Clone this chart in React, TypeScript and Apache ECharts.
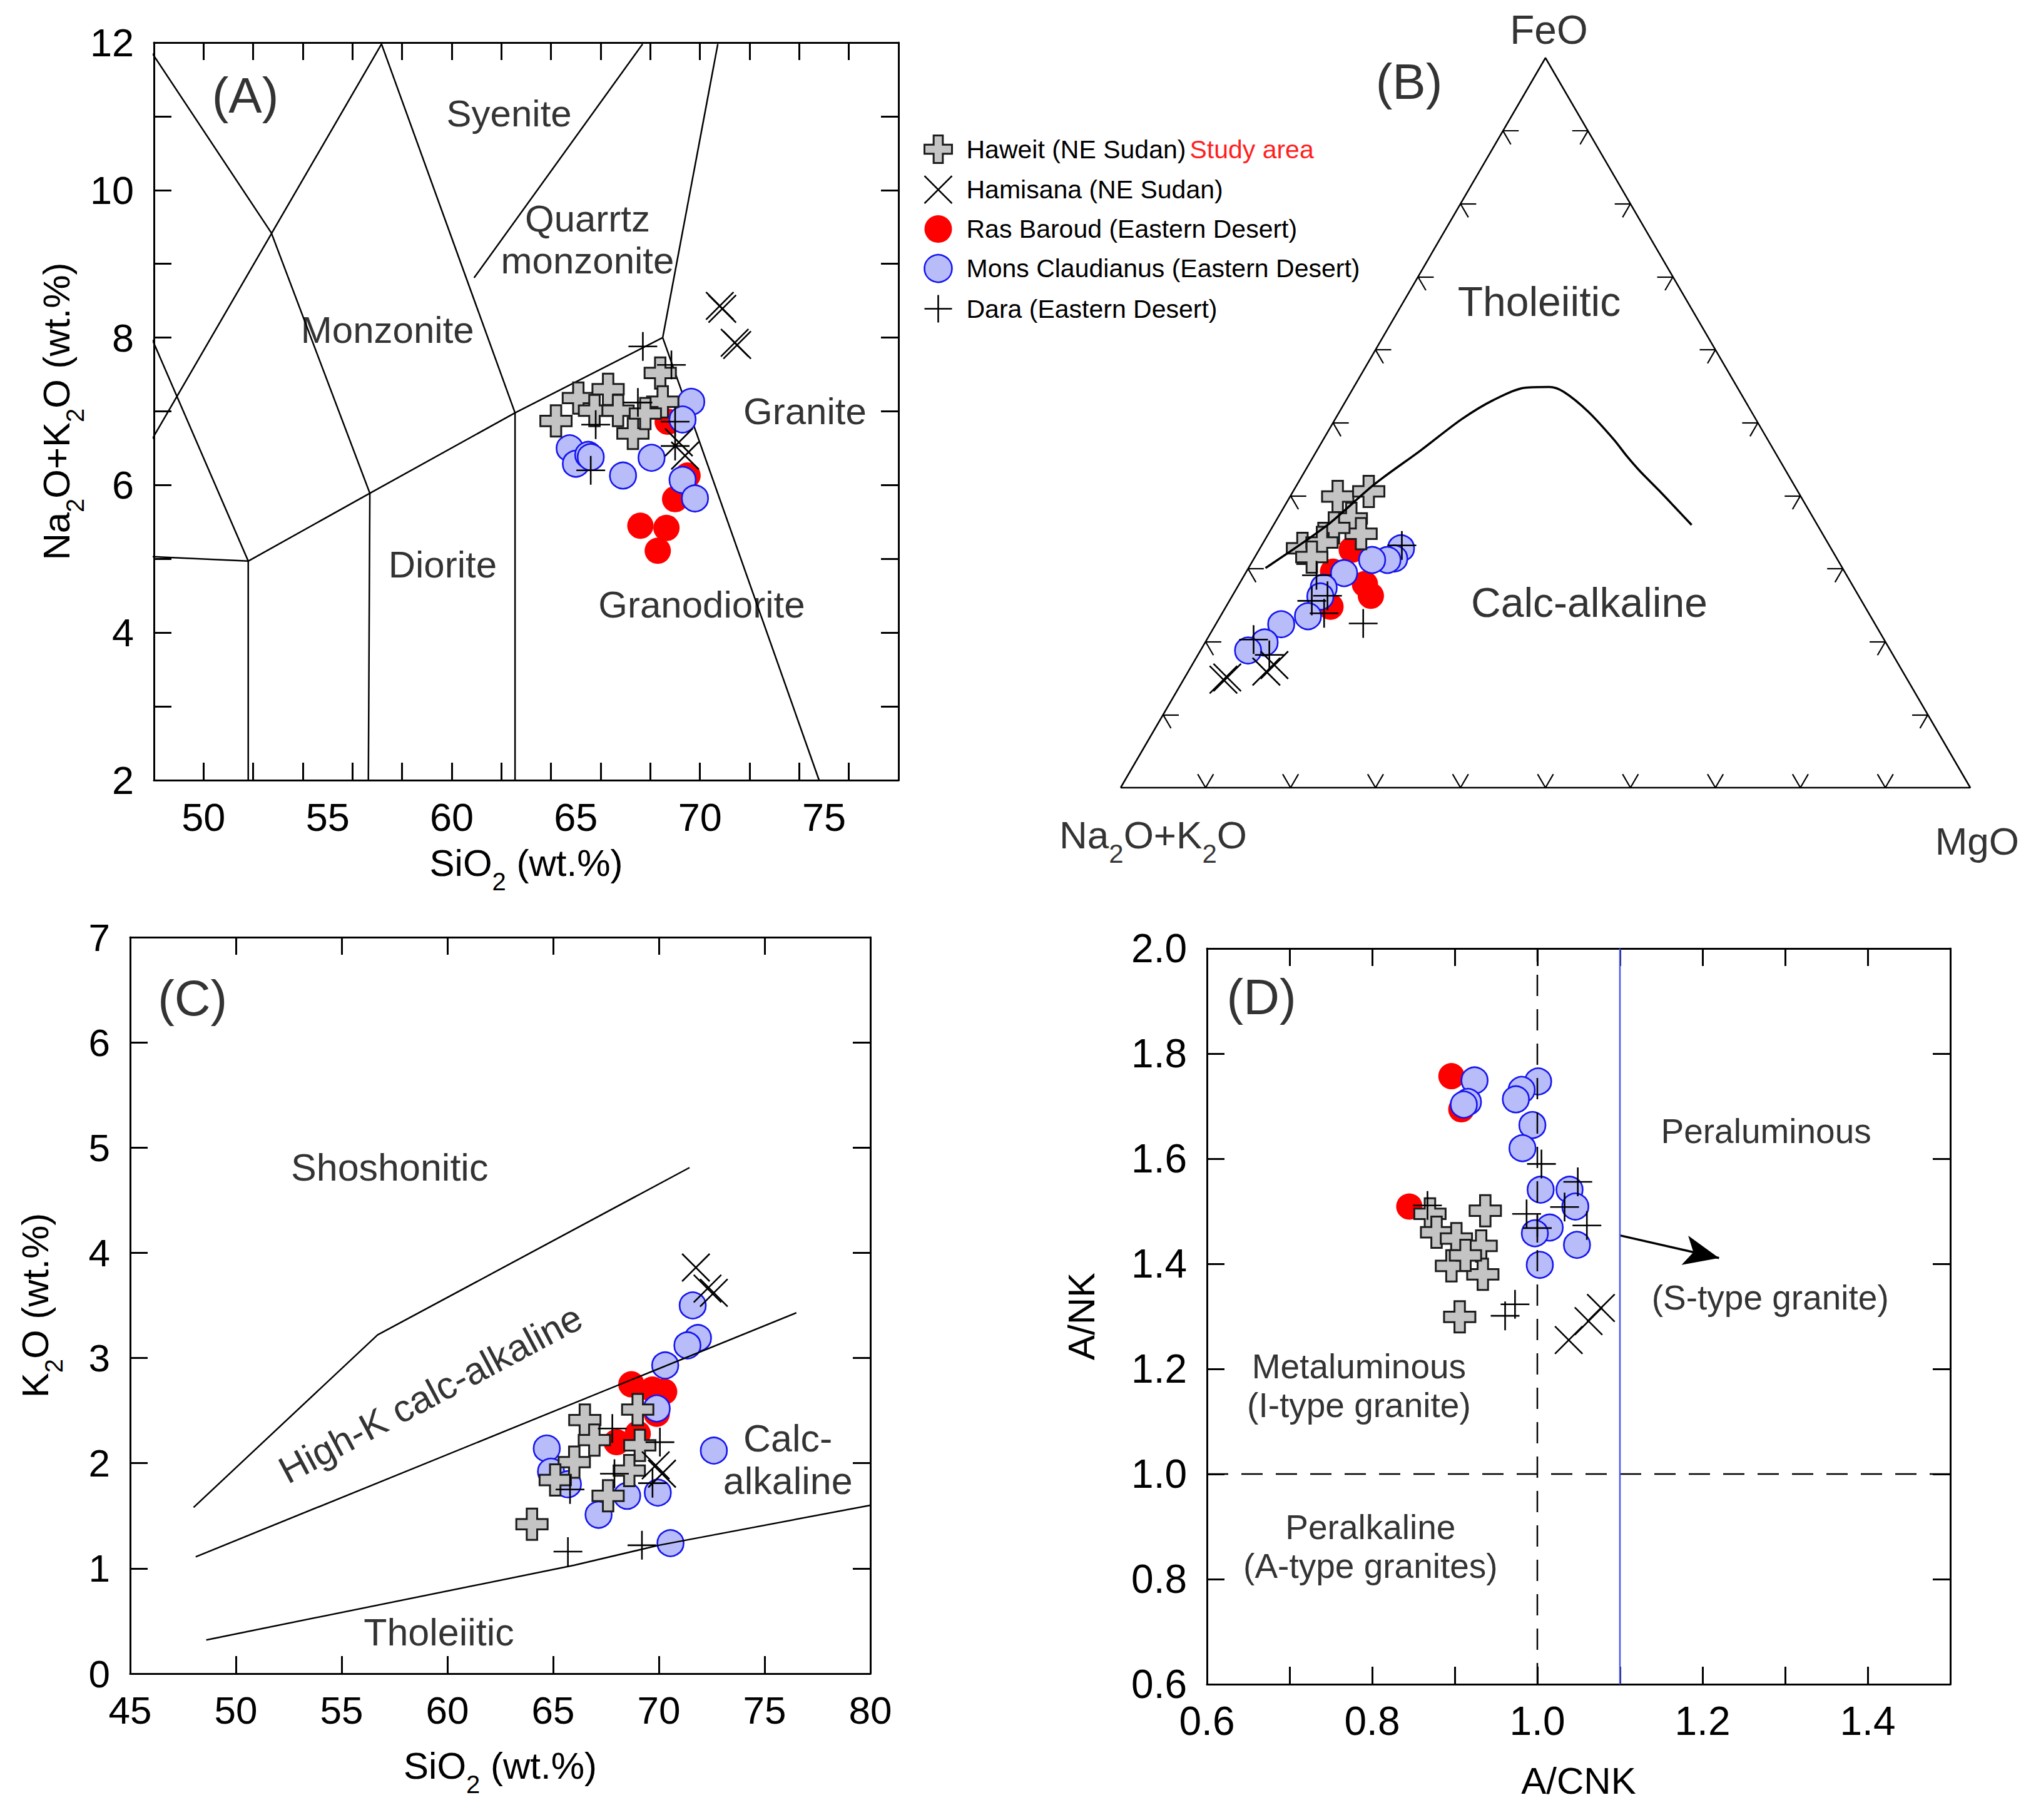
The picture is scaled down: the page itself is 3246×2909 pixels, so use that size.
import React, { useEffect, useRef } from "react";
import * as echarts from "echarts";

const FONT = '"Liberation Sans", Arial, Helvetica, sans-serif';
const S3 = Math.sqrt(3) / 2;

const NAMES = [
  "Haweit (NE Sudan)",
  "Hamisana (NE Sudan)",
  "Ras Baroud (Eastern Desert)",
  "Mons Claudianus (Eastern Desert)",
  "Dara (Eastern Desert)",
];

// ---------- Panel A: TAS (SiO2 vs Na2O+K2O) ----------
const aXLabels = [50, 55, 60, 65, 70, 75];
const aXTicks = [50, 52, 54, 56, 58, 60, 62, 64, 66, 68, 70, 72, 74, 76];
const aYLabels = [2, 4, 6, 8, 10, 12];
const aYTicks = [3, 4, 5, 6, 7, 8, 9, 10, 11];

const aBoundaries = [
  [[47.94, 11.85], [52.73, 9.42], [56.7, 5.89], [56.64, 2]],
  [[47.94, 6.63], [57.17, 11.98]],
  [[57.17, 11.98], [62.55, 6.98], [62.55, 2]],
  [[47.94, 7.97], [51.8, 4.97], [51.8, 2]],
  [[47.94, 5.03], [51.8, 4.97]],
  [[51.8, 4.97], [56.7, 5.89], [62.55, 6.98], [68.5, 8.0]],
  [[68.5, 8.0], [70.72, 11.98]],
  [[68.5, 8.0], [74.8, 2]],
  [[60.9, 8.81], [67.69, 11.98]],
];

const haweitA = [[64.2, 6.87], [65.1, 7.18], [66.3, 7.3], [65.75, 7.01], [66.7, 7.01], [67.3, 6.7], [68.4, 7.52], [68.5, 7.13], [67.8, 6.97]];
const hamisanaA = [[70.8, 8.43], [70.9, 8.39], [71.4, 7.93], [71.5, 7.9], [69.4, 6.4], [69.15, 6.58]];
const rasBaroudA = [[69.5, 6.13], [69.0, 5.81], [67.6, 5.45], [68.65, 5.42], [68.3, 5.11], [68.7, 6.86]];
const monsA = [[69.65, 7.13], [69.3, 6.89], [64.75, 6.5], [65.0, 6.29], [65.5, 6.41], [65.6, 6.38], [66.9, 6.13], [68.05, 6.37], [69.3, 6.07], [69.8, 5.82]];
const daraA = [[67.7, 7.88], [65.6, 6.2], [65.8, 6.82], [67.5, 7.12], [68.85, 7.63], [69.0, 6.86], [69.0, 6.53]];

const aRegions = [
  { name: "(A)", value: [51.68, 11.28], size: 80 },
  { name: "Syenite", value: [62.31, 11.04], size: 60 },
  { name: "Quarrtz\nmonzonite", value: [65.47, 9.33], size: 60 },
  { name: "Monzonite", value: [57.41, 8.1], size: 60 },
  { name: "Granite", value: [74.23, 7.0], size: 60 },
  { name: "Diorite", value: [59.63, 4.92], size: 60 },
  { name: "Granodiorite", value: [70.07, 4.38], size: 60 },
];

// ---------- Panel B: AFM ternary [Na2O+K2O, FeO, MgO] ----------
const bTicks = [10, 20, 30, 40, 50, 60, 70, 80, 90];
const bCurve = [
  [67.9, 30.1, 2.0], [57.8, 35.9, 6.3], [49.3, 41.6, 9.1], [41.6, 46.2, 12.2], [34.6, 50.5, 14.9],
  [29.6, 53.1, 17.3], [25.0, 54.8, 20.2], [22.1, 54.9, 23.0], [20.7, 54.2, 25.1], [19.2, 51.5, 29.3],
  [18.1, 47.7, 34.2], [17.7, 45.4, 36.9], [17.2, 43.4, 39.4], [16.3, 40.8, 42.9], [15.6, 38.6, 45.8], [14.8, 36.0, 49.2],
];
const haweitB = [[54.5, 39.9, 5.6], [50.5, 40.6, 8.9], [54.4, 36.9, 8.7], [54.3, 34.8, 10.9], [57.1, 35.6, 7.3], [62.2, 32.8, 5.0], [59.5, 33.6, 6.9], [61.7, 31.6, 6.7]];
const hamisanaB = [[80.5, 14.8, 4.7], [79.9, 15.1, 5.0], [74.9, 15.9, 9.2], [73.5, 16.8, 9.7]];
const rasBaroudB = [[56.5, 32.6, 10.9], [60.2, 29.6, 10.2], [57.3, 27.9, 14.8], [57.4, 26.3, 16.3], [62.9, 24.8, 12.3]];
const monsB = [[50.6, 32.8, 16.6], [52.1, 31.4, 16.5], [53.0, 31.2, 15.8], [54.8, 31.2, 14.0], [59.0, 29.4, 11.6], [62.4, 27.4, 10.2], [63.4, 26.2, 10.4], [66.2, 23.5, 10.3], [69.9, 22.4, 7.7], [73.1, 19.9, 7.0], [75.6, 18.8, 5.6]];
const daraB = [[50.3, 33.2, 16.5], [62.4, 29.1, 8.5], [62.5, 26.3, 11.2], [64.7, 25.6, 9.7], [64.1, 23.9, 12.0], [60.2, 22.5, 17.3], [74.2, 20.3, 5.5], [73.4, 18.2, 8.4]];

// ---------- Panel C: SiO2 vs K2O ----------
const cXLabels = [45, 50, 55, 60, 65, 70, 75, 80];
const cXTicks = [50, 55, 60, 65, 70, 75];
const cYLabels = [0, 1, 2, 3, 4, 5, 6, 7];
const cYTicks = [1, 2, 3, 4, 5, 6];
const cBoundaries = [
  [[48.0, 1.58], [56.7, 3.22], [71.45, 4.81]],
  [[48.1, 1.11], [76.5, 3.43]],
  [[48.6, 0.32], [66.0, 1.03], [70.0, 1.22], [80.0, 1.6]],
];
const haweitC = [[66.5, 2.41], [66.95, 2.22], [69.0, 2.51], [69.1, 2.17], [68.6, 1.93], [66.0, 2.01], [65.1, 1.84], [67.6, 1.69], [64.0, 1.42]];
const hamisanaC = [[71.75, 3.86], [72.3, 3.66], [72.6, 3.62], [69.85, 1.98], [70.15, 1.9]];
const rasBaroudC = [[68.7, 2.75], [69.7, 2.7], [70.25, 2.68], [69.9, 2.47], [69.0, 2.28], [68.0, 2.2]];
const monsC = [[71.6, 3.5], [71.85, 3.19], [71.35, 3.12], [70.3, 2.93], [69.9, 2.52], [64.7, 2.14], [64.9, 1.92], [65.7, 1.8], [67.15, 1.51], [68.5, 1.69], [69.95, 1.72], [72.6, 2.12], [70.55, 1.24]];
const daraC = [[65.7, 1.16], [69.2, 1.22], [67.8, 2.33], [70.05, 2.2], [69.7, 1.81], [65.8, 1.75], [67.9, 1.9]];
const cRegions = [
  { name: "(C)", value: [47.95, 6.42], size: 80 },
  { name: "Shoshonitic", value: [57.27, 4.81], size: 61 },
  { name: "High-K calc-alkaline", value: [59.2, 2.66], size: 61, rotate: 28 },
  { name: "Calc-\nalkaline", value: [76.1, 2.035], size: 61 },
  { name: "Tholeiitic", value: [59.6, 0.39], size: 61 },
];

// ---------- Panel D: A/CNK vs A/NK ----------
const dXLabels = [0.6, 0.8, 1.0, 1.2, 1.4];
const dXTicks = [0.7, 0.8, 0.9, 1.0, 1.1, 1.2, 1.3, 1.4];
const dYLabels = [0.6, 0.8, 1.0, 1.2, 1.4, 1.6, 1.8, 2.0];
const dYTicks = [0.8, 1.0, 1.2, 1.4, 1.6, 1.8];
const haweitD = [[0.87, 1.495], [0.878, 1.46], [0.902, 1.448], [0.937, 1.501], [0.932, 1.434], [0.896, 1.396], [0.934, 1.38], [0.906, 1.299], [0.913, 1.416]];
const hamisanaD = [[1.038, 1.255], [1.062, 1.291], [1.077, 1.316]];
const rasBaroudD = [[0.896, 1.757], [0.908, 1.694], [0.845, 1.509]];
const monsD = [[0.924, 1.749], [0.916, 1.708], [0.911, 1.703], [1.001, 1.747], [0.981, 1.731], [0.974, 1.713], [0.994, 1.664], [0.982, 1.62], [1.004, 1.541], [1.039, 1.541], [1.046, 1.509], [1.015, 1.469], [0.997, 1.458], [1.048, 1.436], [1.003, 1.398]];
const daraD = [[0.867, 1.511], [1.005, 1.59], [1.049, 1.556], [1.033, 1.508], [0.987, 1.495], [1.0, 1.468], [1.06, 1.473], [0.973, 1.323], [0.961, 1.301]];
const dArrow = [[1.1, 1.454], [1.22, 1.411]];
const dRegions = [
  { name: "(D)", value: [0.666, 1.908], size: 80 },
  { name: "Peraluminous", value: [1.277, 1.652], size: 55 },
  { name: "(S-type granite)", value: [1.282, 1.336], size: 55 },
  { name: "Metaluminous\n(I-type granite)", value: [0.784, 1.168], size: 55 },
  { name: "Peralkaline\n(A-type granites)", value: [0.798, 0.862], size: 55 },
];

// ---------- styles ----------
const SYM_CROSS = "path://M1,0L2,0L2,1L3,1L3,2L2,2L2,3L1,3L1,2L0,2L0,1L1,1Z";
const SYM_PLUS = "path://M1,0L1,2M0,1L2,1";
const SYM_X = "path://M0,0L2,2M0,2L2,0";
const GROUP_STYLE: any = {
  haweit: { symbol: SYM_CROSS, symbolSize: 50, itemStyle: { color: "#c4c4c4", borderColor: "#1c1c1c", borderWidth: 3 } },
  hamisana: { symbol: SYM_X, symbolSize: 44, itemStyle: { color: "rgba(0,0,0,0)", borderColor: "#000", borderWidth: 2.6 } },
  ras: { symbol: "circle", symbolSize: 42, itemStyle: { color: "#ff0000" } },
  mons: { symbol: "circle", symbolSize: 42, itemStyle: { color: "#b8bcf8", borderColor: "#1414f0", borderWidth: 2.6 } },
  dara: { symbol: SYM_PLUS, symbolSize: 46, itemStyle: { color: "rgba(0,0,0,0)", borderColor: "#000", borderWidth: 2.6 } },
};

const tern = (p: number[]) => {
  const s = p[0] + p[1] + p[2];
  return [(p[2] + p[1] / 2) / s, (p[1] / s) * S3];
};

const rich = (size: number) => ({
  n: { fontSize: size, lineHeight: Math.round(size * 1.33), verticalAlign: "top", fontFamily: FONT, color: "#000" },
  s: { fontSize: Math.round(size * 0.67), lineHeight: Math.round(size * 0.73), verticalAlign: "bottom", fontFamily: FONT, color: "#000" },
});

function axisPair(kind: "x" | "y", gridIndex: number, min: number, max: number, ticks: number[], labels: number[], fmt: (v: number) => string, name: string, nameGap: number, labelSize: number) {
  const line = { show: true, onZero: false, lineStyle: { color: "#000", width: 3 } };
  const tick = { show: true, inside: true, length: 28, customValues: ticks, lineStyle: { color: "#000", width: 3 } };
  const main: any = {
    type: "value",
    gridIndex,
    min,
    max,
    position: kind === "x" ? "bottom" : "left",
    axisLine: line,
    axisTick: tick,
    axisLabel: { show: true, customValues: labels, formatter: fmt, fontSize: labelSize, fontFamily: FONT, color: "#000", margin: kind === "x" ? 27 : 32 },
    splitLine: { show: false },
    name,
    nameLocation: "middle",
    nameGap,
    nameRotate: kind === "y" ? 90 : 0,
    nameTextStyle: { fontSize: 60, fontFamily: FONT, color: "#000", rich: rich(60) },
  };
  const mirror: any = {
    type: "value",
    gridIndex,
    min,
    max,
    position: kind === "x" ? "top" : "right",
    axisLine: line,
    axisTick: tick,
    axisLabel: { show: false },
    splitLine: { show: false },
  };
  return [main, mirror];
}

function groupSeries(xi: number, yi: number, groups: { key: string; data: number[][] }[], z = 5) {
  const nameOf: any = { haweit: NAMES[0], hamisana: NAMES[1], ras: NAMES[2], mons: NAMES[3], dara: NAMES[4] };
  return groups.map((g) => ({
    type: "scatter",
    name: nameOf[g.key],
    xAxisIndex: xi,
    yAxisIndex: yi,
    data: g.data,
    symbol: GROUP_STYLE[g.key].symbol,
    symbolSize: GROUP_STYLE[g.key].symbolSize,
    itemStyle: { ...GROUP_STYLE[g.key].itemStyle, opacity: 1 },
    clip: false,
    silent: true,
    z,
  }));
}

function lineSeries(xi: number, yi: number, pts: number[][], extra: any = {}) {
  return {
    type: "line",
    xAxisIndex: xi,
    yAxisIndex: yi,
    data: pts,
    symbol: "none",
    clip: false,
    silent: true,
    lineStyle: { color: "#000", width: 2.5, ...(extra.lineStyle || {}) },
    z: extra.z ?? 3,
    smooth: extra.smooth ?? false,
    ...(extra.markLine ? { markLine: extra.markLine } : {}),
  };
}

function labelSeries(xi: number, yi: number, items: any[]) {
  return {
    type: "scatter",
    xAxisIndex: xi,
    yAxisIndex: yi,
    symbolSize: 1,
    itemStyle: { color: "rgba(0,0,0,0)" },
    clip: false,
    silent: true,
    z: 10,
    data: items.map((it) => ({
      name: it.name,
      value: it.value,
      label: {
        show: true,
        position: "inside",
        formatter: it.formatter ?? "{b}",
        fontSize: it.size,
        lineHeight: Math.round(it.size * 1.12),
        rotate: it.rotate ?? 0,
        fontFamily: FONT,
        color: "#000",
        ...(it.rich ? { rich: it.rich } : {}),
      },
    })),
  };
}

function buildOption() {
  const [ax0, ax1] = axisPair("x", 0, 48, 78, aXTicks, aXLabels, (v) => String(v), "{n|SiO}{s|2}{n| (wt.%)}", 102, 63);
  const [ay0, ay1] = axisPair("y", 0, 2, 12, aYTicks, aYLabels, (v) => String(v), "{n|Na}{s|2}{n|O+K}{s|2}{n|O (wt.%)}", 97, 63);
  const [cx0, cx1] = axisPair("x", 2, 45, 80, cXTicks, cXLabels, (v) => String(v), "{n|SiO}{s|2}{n| (wt.%)}", 117, 62);
  const [cy0, cy1] = axisPair("y", 2, 0, 7, cYTicks, cYLabels, (v) => String(v), "{n|K}{s|2}{n|O (wt.%)}", 102, 62);
  const [dx0, dx1] = axisPair("x", 3, 0.6, 1.5, dXTicks, dXLabels, (v) => v.toFixed(1), "{n|A/CNK}", 124, 64);
  const [dy0, dy1] = axisPair("y", 3, 0.6, 2.0, dYTicks, dYLabels, (v) => v.toFixed(1), "{n|A/NK}", 151, 64);

  const bx = { type: "value", gridIndex: 1, min: 0, max: 1, show: false };
  const by = { type: "value", gridIndex: 1, min: 0, max: S3, show: false };

  const L = 1.85;
  const stubs: number[][][] = [];
  bTicks.forEach((t) => {
    const pb = [100 - t, 0, t];
    stubs.push([tern(pb), tern([100 - t - L, L, t])], [tern(pb), tern([100 - t, L, t - L])]);
    const pl = [100 - t, t, 0];
    stubs.push([tern(pl), tern([100 - t - L, t, L])], [tern(pl), tern([100 - t, t - L, L])]);
    const pr = [0, t, 100 - t];
    stubs.push([tern(pr), tern([L, t, 100 - t - L])], [tern(pr), tern([L, t - L, 100 - t])]);
  });

  const series: any[] = [];
  // Panel A
  aBoundaries.forEach((b) => series.push(lineSeries(0, 0, b)));
  series.push(
    ...groupSeries(0, 0, [
      { key: "ras", data: rasBaroudA },
      { key: "mons", data: monsA },
      { key: "haweit", data: haweitA },
      { key: "dara", data: daraA },
      { key: "hamisana", data: hamisanaA },
    ])
  );
  series.push(labelSeries(0, 0, aRegions));

  // Panel B
  series.push(lineSeries(2, 2, [[0, 0], [1, 0], [0.5, S3], [0, 0]]));
  series.push({
    type: "lines",
    coordinateSystem: "cartesian2d",
    xAxisIndex: 2,
    yAxisIndex: 2,
    polyline: false,
    silent: true,
    lineStyle: { color: "#000", width: 2.2, opacity: 1 },
    data: stubs.map((c) => ({ coords: c })),
    z: 3,
  });
  series.push(
    ...groupSeries(2, 2, [
      { key: "ras", data: rasBaroudB.map(tern) },
      { key: "mons", data: monsB.map(tern) },
      { key: "haweit", data: haweitB.map(tern) },
      { key: "dara", data: daraB.map(tern) },
      { key: "hamisana", data: hamisanaB.map(tern) },
    ])
  );
  series.push(lineSeries(2, 2, bCurve.map(tern), { z: 6, smooth: 0.3, lineStyle: { width: 3.5 } }));
  const richB = rich(62);
  series.push(
    labelSeries(2, 2, [
      { name: "FeO", value: [0.504, 0.899], size: 64 },
      { name: "(B)", value: [0.3395, 0.838], size: 80 },
      { name: "Tholeiitic", value: [0.4926, 0.5768], size: 66 },
      { name: "Calc-alkaline", value: [0.5515, 0.2197], size: 66 },
      { name: "Na2O+K2O", value: [0.0383, -0.0638], size: 62, formatter: "{n|Na}{s|2}{n|O+K}{s|2}{n|O}", rich: richB },
      { name: "MgO", value: [1.008, -0.0638], size: 62 },
    ])
  );

  // Panel C
  series.push(
    ...groupSeries(3, 3, [
      { key: "ras", data: rasBaroudC },
      { key: "mons", data: monsC },
      { key: "haweit", data: haweitC },
      { key: "dara", data: daraC },
      { key: "hamisana", data: hamisanaC },
    ])
  );
  cBoundaries.forEach((b) => series.push(lineSeries(3, 3, b, { z: 6 })));
  series.push(labelSeries(3, 3, cRegions));

  // Panel D
  series.push(
    ...groupSeries(5, 5, [
      { key: "ras", data: rasBaroudD },
      { key: "mons", data: monsD },
      { key: "haweit", data: haweitD },
      { key: "dara", data: daraD },
      { key: "hamisana", data: hamisanaD },
    ])
  );
  series.push(lineSeries(5, 5, [[1.0, 0.6], [1.0, 2.0]], { z: 6, lineStyle: { type: [34, 21], width: 2.5 } }));
  series.push(lineSeries(5, 5, [[0.6, 1.0], [1.5, 1.0]], { z: 6, lineStyle: { type: [34, 21], width: 2.5 } }));
  series.push(
    lineSeries(5, 5, [[1.1, 0.6], [1.1, 2.0]], {
      z: 6,
      lineStyle: { color: "#4a55f2", width: 2.5 },
      markLine: {
        silent: true,
        animation: false,
        symbol: ["none", "arrow"],
        symbolSize: [36, 56],
        label: { show: false },
        lineStyle: { color: "#000", width: 3.5, type: "solid" },
        data: [[{ coord: dArrow[0] }, { coord: dArrow[1] }]],
      },
    })
  );
  series.push(labelSeries(5, 5, dRegions));

  return {
    animation: false,
    backgroundColor: "#fff",
    textStyle: { fontFamily: FONT },
    grid: [
      { left: 246, top: 68, width: 1190, height: 1179 },
      { left: 1791, top: 92.5, width: 1358, height: 1166.5 },
      { left: 208, top: 1498, width: 1183, height: 1177 },
      { left: 1929, top: 1516, width: 1188, height: 1176 },
    ],
    xAxis: [ax0, ax1, bx, cx0, cx1, dx0, dx1],
    yAxis: [ay0, ay1, by, cy0, cy1, dy0, dy1],
    legend: {
      data: NAMES,
      orient: "vertical",
      left: 1471,
      top: 210,
      itemWidth: 44,
      itemHeight: 44,
      itemGap: 17.75,
      selectedMode: false,
      itemStyle: { borderWidth: "inherit" },
      textStyle: {
        fontSize: 41,
        fontFamily: FONT,
        color: "#000",
        padding: [0, 0, 0, 18],
        rich: {
          n: { fontSize: 41, fontFamily: FONT, color: "#000" },
          r: { fontSize: 41, fontFamily: FONT, color: "#ff1f1f", padding: [0, 0, 0, 6] },
        },
      },
      formatter: (n: string) => (n === NAMES[0] ? `{n|${n}}{r|Study area}` : `{n|${n}}`),
    },
    series,
  };
}

export default function App() {
  const ref = useRef<HTMLDivElement>(null);
  useEffect(() => {
    const chart = echarts.init(ref.current as HTMLDivElement, null, { renderer: "svg" });
    chart.setOption(buildOption() as any);
    return () => chart.dispose();
  }, []);
  return (
    <div
      ref={ref}
      style={{ position: "absolute", left: 0, top: 0, width: 3246, height: 2909, background: "#fff" }}
    />
  );
}
